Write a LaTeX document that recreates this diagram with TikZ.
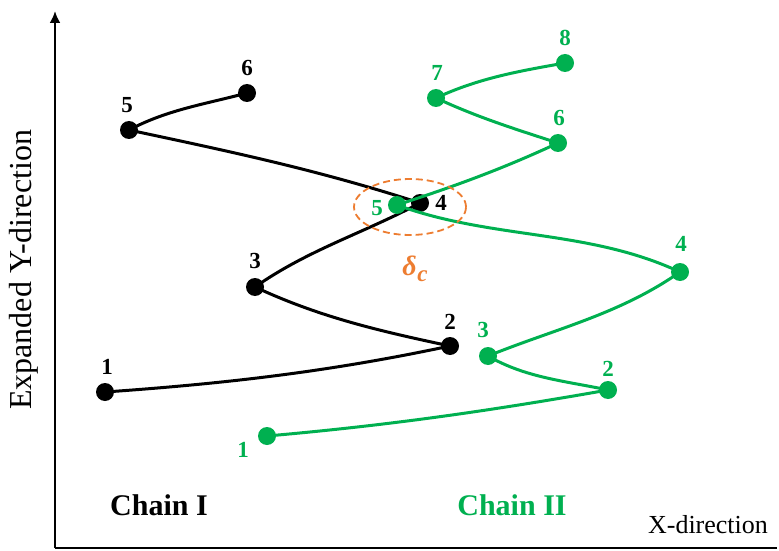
\documentclass[tikz,border=0pt]{standalone}
\usepackage{fontspec}
\setmainfont{Liberation Serif}
\usetikzlibrary{arrows.meta}
\definecolor{chaingreen}{RGB}{0,176,80}
\definecolor{deltaorange}{RGB}{237,125,49}
\pgfdeclarelayer{bg}
\pgfsetlayers{bg,main}
\tikzset{
  axis/.style={line width=2.5pt, black},
  blackdot/.style={circle, fill=black, inner sep=0pt, minimum size=18pt},
  greendot/.style={circle, fill=chaingreen, inner sep=0pt, minimum size=18pt},
  blackline/.style={line width=3pt, black, looseness=0.9},
  greenline/.style={line width=3pt, chaingreen, looseness=0.9},
  blabel/.style={font=\fontsize{23}{23}\selectfont\bfseries, text=black, inner sep=0pt},
  glabel/.style={font=\fontsize{23}{23}\selectfont\bfseries, text=chaingreen, inner sep=0pt},
}
\begin{document}
\begin{tikzpicture}[x=1pt, y=1pt]
\useasboundingbox (0,0) rectangle (779,550);

% axes
\coordinate (origin) at (55,2);
\coordinate (ytop) at (55,539);
\coordinate (xend) at (777,2);
\draw[axis, -{Latex[length=12pt,width=11pt]}] (origin) -- (ytop);
\draw[axis] (origin) -- (xend);
\node[rotate=90, font=\fontsize{32}{32}\selectfont, inner sep=0pt] (ylab) at (24,280) {Expanded Y-direction};
\node[font=\fontsize{26}{26}\selectfont, inner sep=0pt] (xlab) at (708,25) {X-direction};

% chain I
\node[blackdot] (b1) at (105,158) {};
\node[blackdot] (b2) at (450,204) {};
\node[blackdot] (b3) at (255,263) {};
\node[blackdot] (b4) at (420,347) {};
\node[blackdot] (b5) at (129,420) {};
\node[blackdot] (b6) at (247,457) {};
\begin{pgfonlayer}{bg}
\draw[blackline] (b1.center) to[out=4, in=192] (b2.center)
                 to[out=168, in=-25] (b3.center)
                 to[out=35, in=208] (b4.center)
                 to[out=162, in=-12] (b5.center)
                 to[out=28, in=195] (b6.center);
\end{pgfonlayer}

% chain II
\draw[greenline] (267,114) coordinate (g1c) to[out=5, in=190] (608,160) coordinate (g2c)
                 to[out=168, in=-30] (488,194) coordinate (g3c)
                 to[out=22, in=215] (680,278) coordinate (g4c)
                 to[out=155, in=-20] (397,345) coordinate (g5c)
                 to[out=18, in=205] (558,407) coordinate (g6c)
                 to[out=162, in=-25] (436,452) coordinate (g7c)
                 to[out=25, in=190] (565,487) coordinate (g8c);
\foreach \i in {1,...,8} { \node[greendot] (g\i) at (g\i c) {}; }

% point labels
\node[blabel] (lb1) at (107,183) {1};
\node[blabel] (lb2) at (450,228) {2};
\node[blabel] (lb3) at (255,289) {3};
\node[blabel] (lb4) at (441,347) {4};
\node[blabel] (lb5) at (127,445) {5};
\node[blabel] (lb6) at (247,482) {6};
\node[glabel] (lg1) at (243,100) {1};
\node[glabel] (lg2) at (608,181) {2};
\node[glabel] (lg3) at (483,220) {3};
\node[glabel] (lg4) at (681,306) {4};
\node[glabel] (lg5) at (377,342) {5};
\node[glabel] (lg6) at (559,432) {6};
\node[glabel] (lg7) at (437,477) {7};
\node[glabel] (lg8) at (565,512) {8};

% contact zone
\draw[deltaorange, line width=1.8pt, dash pattern=on 7pt off 4pt] (410,343) ellipse [x radius=56, y radius=28];
\node[text=deltaorange, inner sep=0pt, font=\fontsize{28}{28}\selectfont\bfseries\itshape] (delta) at (415,281)
  {δ\kern0.5pt\raisebox{-6pt}{\fontsize{23}{23}\selectfont c}};

% chain titles
\node[font=\fontsize{30}{30}\selectfont\bfseries, inner sep=0pt] (chainI) at (159,45) {Chain I};
\node[font=\fontsize{30}{30}\selectfont\bfseries, text=chaingreen, inner sep=0pt] (chainII) at (512,45) {Chain II};
\end{tikzpicture}
\end{document}
